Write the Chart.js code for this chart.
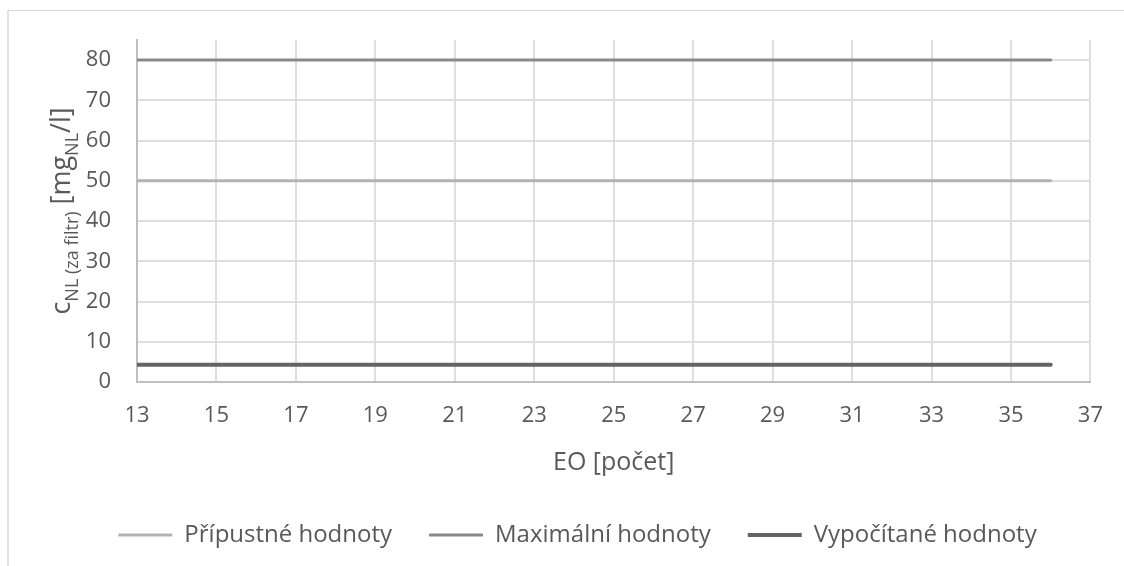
<!DOCTYPE html>
<html lang="cs">
<head>
<meta charset="utf-8">
<title>Koncentrace NL za filtrem</title>
<script src="https://cdn.jsdelivr.net/npm/chart.js@4.4.1/dist/chart.umd.min.js"></script>
<style>
  html, body { margin: 0; padding: 0; background: #fff; overflow: hidden; }
  #frame {
    position: absolute; left: 7px; top: 10px;
    width: 2000px; height: 1000px;
    border-top: 1px solid #d9d9d9;
    border-left: 2px solid #e2e2e2;
  }
  #chart { position: absolute; left: 0; top: 0; }
</style>
</head>
<body>
<div id="frame"></div>
<canvas id="chart" width="1124" height="566"></canvas>
<script>
// ---- Data ----
const eo = [13, 14, 15, 16, 17, 18, 19, 20, 21, 22, 23, 24,
            25, 26, 27, 28, 29, 30, 31, 32, 33, 34, 35, 36];
const pripustne = [50, 50, 50, 50, 50, 50, 50, 50, 50, 50, 50, 50,
                   50, 50, 50, 50, 50, 50, 50, 50, 50, 50, 50, 50];
const maximalni = [80, 80, 80, 80, 80, 80, 80, 80, 80, 80, 80, 80,
                   80, 80, 80, 80, 80, 80, 80, 80, 80, 80, 80, 80];
const vypocitane = [4.3, 4.3, 4.3, 4.3, 4.3, 4.3, 4.3, 4.3, 4.3, 4.3, 4.3, 4.3,
                    4.3, 4.3, 4.3, 4.3, 4.3, 4.3, 4.3, 4.3, 4.3, 4.3, 4.3, 4.3];
const seriesNames = ['Přípustné hodnoty', 'Maximální hodnoty', 'Vypočítané hodnoty'];
const yTickValues = [0, 10, 20, 30, 40, 50, 60, 70, 80];

// ---- Styling ----
const FONT = '"Open Sans", "Noto Sans", sans-serif';
const TEXT = '#595959';
const GRID = '#dedede';
const AXIS = '#bfbfbf';

function points(values) {
  return eo.map((x, i) => ({ x, y: values[i] }));
}

function lineSet(label, values, color, width) {
  return {
    label,
    data: points(values),
    borderColor: color,
    backgroundColor: color,
    borderWidth: width,
    borderCapStyle: 'round',
    pointRadius: 0,
    pointHoverRadius: 0,
    tension: 0
  };
}

// y-axis title with subscripts: c_NL (za filtr) [mg_NL/l]
const yTitlePlugin = {
  id: 'yTitle',
  afterDraw(chart) {
    const { ctx, chartArea } = chart;
    const parts = [
      { t: 'c', sub: false },
      { t: 'NL (za filtr)', sub: true },
      { t: ' [mg', sub: false },
      { t: 'NL', sub: true },
      { t: '/l]', sub: false }
    ];
    const big = '27px ' + FONT;
    const small = '18px ' + FONT;
    ctx.save();
    let total = 0;
    parts.forEach(p => {
      ctx.font = p.sub ? small : big;
      p.w = ctx.measureText(p.t).width;
      total += p.w;
    });
    ctx.translate(70, (chartArea.top + chartArea.bottom) / 2);
    ctx.rotate(-Math.PI / 2);
    ctx.fillStyle = TEXT;
    ctx.textBaseline = 'alphabetic';
    let x = -total / 2;
    parts.forEach(p => {
      ctx.font = p.sub ? small : big;
      ctx.fillText(p.t, x, p.sub ? 8 : 0);
      x += p.w;
    });
    ctx.restore();
  }
};

new Chart(document.getElementById('chart'), {
  type: 'line',
  data: {
    datasets: [
      lineSet(seriesNames[0], pripustne, '#b3b3b3', 3),
      lineSet(seriesNames[1], maximalni, '#898989', 3),
      lineSet(seriesNames[2], vypocitane, '#646464', 4)
    ]
  },
  options: {
    responsive: false,
    animation: false,
    layout: { padding: { top: 40, right: 26, bottom: 9, left: 57 } },
    plugins: {
      tooltip: { enabled: false },
      legend: {
        position: 'bottom',
        labels: {
          color: TEXT,
          font: { family: FONT, size: 24 },
          usePointStyle: true,
          pointStyle: 'line',
          pointStyleWidth: 54,
          padding: 37
        }
      }
    },
    scales: {
      x: {
        type: 'linear',
        min: 13,
        max: 37,
        afterFit: s => { s.height = 104; },
        ticks: {
          stepSize: 2,
          color: TEXT,
          padding: 21,
          maxRotation: 0,
          font: { family: FONT, size: 22 }
        },
        grid: { color: GRID, lineWidth: 2, drawTicks: false },
        border: { color: AXIS, width: 2 },
        title: {
          display: true,
          text: 'EO [počet]',
          color: TEXT,
          font: { family: FONT, size: 25 },
          padding: { top: 0, bottom: 8 }
        }
      },
      y: {
        min: 0,
        max: 85,
        afterFit: s => { s.width = 80; },
        afterBuildTicks: s => { s.ticks = yTickValues.map(v => ({ value: v })); },
        ticks: {
          color: TEXT,
          padding: 26,
          font: { family: FONT, size: 22 }
        },
        grid: { color: GRID, lineWidth: 2, drawTicks: false },
        border: { color: AXIS, width: 2 }
      }
    }
  },
  plugins: [yTitlePlugin]
});
</script>
</body>
</html>
